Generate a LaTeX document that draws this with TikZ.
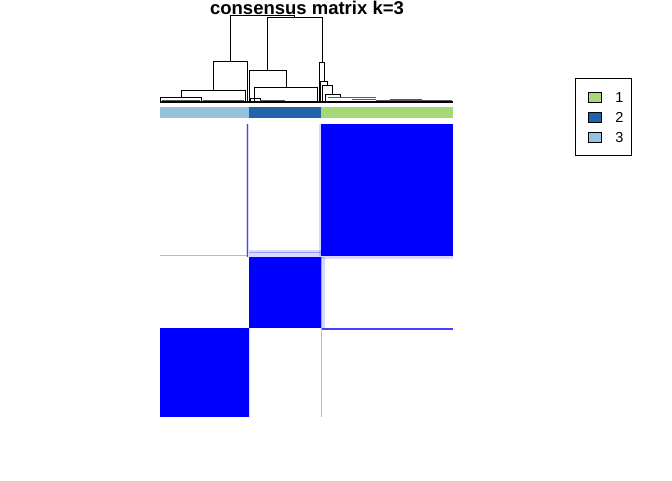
\documentclass[tikz,border=0pt]{standalone}
\usepackage{fontspec}
\setmainfont{Liberation Sans}
\usepackage{xcolor}
\definecolor{kone}{HTML}{A5D975}
\definecolor{ktwo}{HTML}{1F63A8}
\definecolor{kthree}{HTML}{94C4DD}
\begin{document}
\begin{tikzpicture}[x=1pt,y=-1pt]
	\useasboundingbox (0,0) rectangle (672,480);
	\node[font=\fontsize{18.5}{20}\bfseries\selectfont,anchor=base] (T) at (307,14) {consensus matrix k=3};
\par
\tikzstyle{tree}=[line width=0.9pt,black]
\tikzstyle{twig}=[line width=0.8pt,black!65]
	\draw[tree] (230,61.7) |- (294.3,15.7) -- (294.3,17.3);
	\draw[tree] (267.3,70.3) |- (322,17.3) -- (322,62.3);
	\draw[tree] (213.3,90) |- (247.7,61.7) -- (247.7,102);
	\draw[tree] (181,97.7) |- (245.7,90) -- (245.7,102);
	\draw[tree] (160,102) |- (201.7,97.7) -- (201.7,102);
	\draw[twig] (162,100) -- (200,100);
	\draw[twig] (203,100) -- (244,100);
	\draw[tree] (249,102) |- (286.7,70.3) -- (286.7,87.3);
	\draw[tree] (254.3,102) |- (317.3,87.3) -- (317.3,102);
	\draw[tree] (250,102) |- (260,98.3) -- (260,102);
	\draw[twig] (260,100) -- (285,100);
	\draw[tree] (319.3,102) |- (324,62.3) -- (324,81.7);
	\draw[tree] (320.7,102) |- (327.3,81.7) -- (327.3,85);
	\draw[tree] (322.7,102) |- (332.7,85) -- (332.7,94.3);
	\draw[tree] (325,102) |- (340,94.3) -- (340,97.7);
	\draw[twig] (328,97.7) -- (376,97.7);
	\draw[twig] (351.7,99) -- (376,99);
	\draw[twig] (376,100) -- (452,100);
	\draw[twig] (390,99.5) -- (421.7,99.5);
	\draw[line width=2.5pt] (160,102) -- (452.7,102);
\par
	\fill[kthree] (160,107) rectangle (249,118);
	\fill[ktwo] (249,107) rectangle (320.5,118);
	\fill[kone] (320.5,107) rectangle (452.5,118);
\par
\tikzstyle{halo}=[blue,opacity=0.15]
	\fill[halo] (245.5,124.3) rectangle (249,256.5);
	\fill[halo] (249,250) rectangle (320.5,257);
	\fill[halo] (318.5,124.3) rectangle (321,256.3);
	\fill[halo] (321,256.3) rectangle (452.5,259);
	\fill[halo] (320.5,257) rectangle (325,328.3);
	\fill[halo] (248.5,328.3) rectangle (250,416.5);
	\draw[blue,opacity=0.7,line width=1pt] (247.7,124.3) -- (247.7,256.5);
	\draw[blue,opacity=0.3,line width=0.8pt] (160,255.5) -- (247,255.5);
	\draw[blue,opacity=0.3,line width=0.8pt] (249,252.5) -- (320.5,252.5);
	\draw[blue,opacity=0.3,line width=1pt] (321.5,257) -- (321.5,416.5);
	\draw[blue,opacity=0.75,line width=1.4pt] (321.5,329) -- (452.5,329);
	\fill[blue] (321,124.3) rectangle (452.5,256.3);
	\fill[blue] (249,257) rectangle (320.5,328.3);
	\fill[blue] (160,328.3) rectangle (248.5,416.5);
\par
\tikzstyle{key}=[draw,line width=0.8pt,minimum width=13pt,minimum height=10pt,inner sep=0pt]
\tikzstyle{num}=[font=\fontsize{14.5}{16}\selectfont]
	\node[draw,line width=0.9pt,minimum width=56pt,minimum height=77pt] (L) at (603,116.5) {};
	\node[key,fill=kone] (K1) at (595,97.7) {};
	\node[key,fill=ktwo] (K2) at (595,117.7) {};
	\node[key,fill=kthree] (K3) at (595,137.7) {};
	\node[num] (N1) at (619.5,97.7) {1};
	\node[num] (N2) at (619.5,117.7) {2};
	\node[num] (N3) at (619.5,137.7) {3};
\end{tikzpicture}
\end{document}
